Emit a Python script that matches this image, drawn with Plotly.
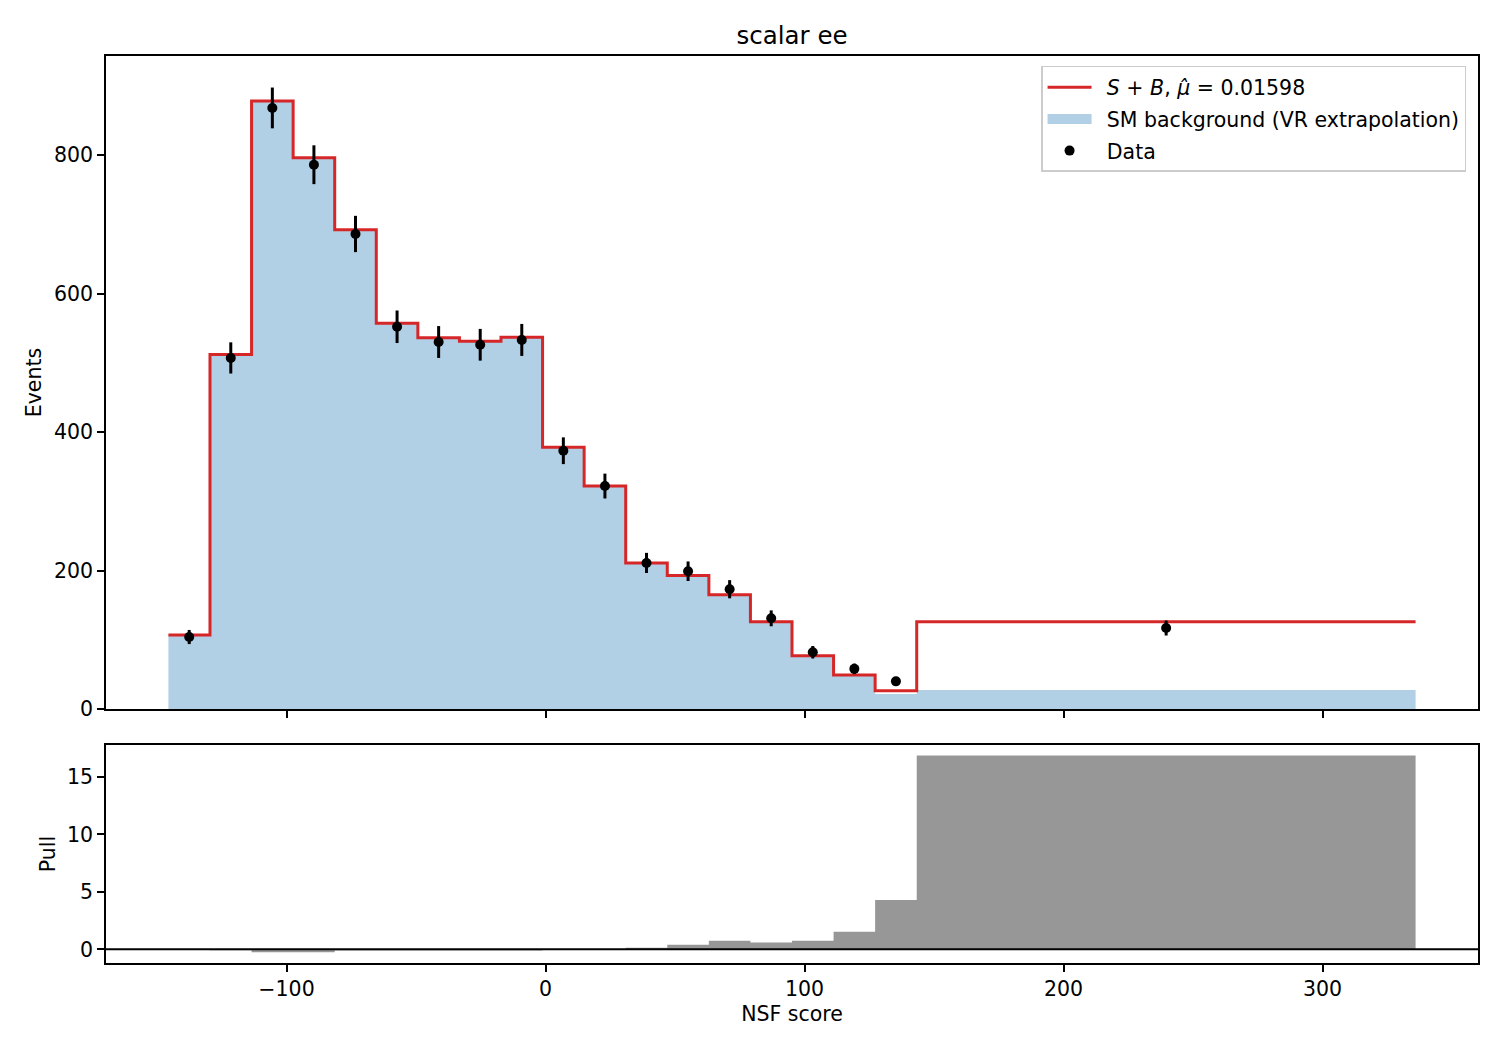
import numpy as np
import plotly.graph_objects as go

# Bin edges of NSF score
edges = [-145.6, -129.55, -113.5, -97.45, -81.4, -65.35, -49.3, -33.25, -17.2,
         -1.15, 14.9, 30.95, 47.0, 63.05, 79.1, 95.15, 111.2, 127.25, 143.3, 335.9]

# S+B prediction per bin
sb_values = [107, 512, 878, 796, 692, 557, 536, 531, 537, 378, 322, 211, 193,
             165, 126, 77, 49, 26.5, 126]

# SM background (VR extrapolation) per bin
bkg_values = [107, 512, 878, 796, 692, 557, 536, 531, 537, 378, 322, 211, 193,
              165, 126, 77, 49, 21.7, 27.4]

# Observed data per bin
data_values = [104, 507, 868, 786, 686, 552, 530, 526, 533, 373, 322, 211, 199,
               173, 131, 82, 58, 40, 117]

# Pull per bin
pull_values = [0.0, -0.08, -0.25, -0.25, -0.1, -0.1, -0.1, -0.1, -0.1, -0.05,
               0.0, 0.13, 0.39, 0.74, 0.59, 0.74, 1.52, 4.29, 16.87]

x_ticks = [-100, 0, 100, 200, 300]
y_ticks = [0, 200, 400, 600, 800]
pull_ticks = [0, 5, 10, 15]

e = np.array(edges)
centers = (e[:-1] + e[1:]) / 2
data_err = np.sqrt(np.array(data_values, dtype=float))

FONT = "DejaVu Sans"
FS = 20.5
BLUE = "#b1cfe5"
SP = "\u2002"

fig = go.Figure()

# background filled step
fig.add_trace(go.Scatter(
    x=edges, y=bkg_values + [bkg_values[-1]],
    mode="lines", line=dict(color=BLUE, width=0, shape="hv"),
    fill="tozeroy", fillcolor=BLUE,
    showlegend=False, hoverinfo="skip",
    xaxis="x", yaxis="y",
))
# legend proxy for background
fig.add_trace(go.Scatter(
    x=[None], y=[None], mode="lines",
    line=dict(color=BLUE, width=14),
    name=SP + "SM background (VR extrapolation)", legendrank=2, legendgroup="b",
    xaxis="x", yaxis="y",
))

fig.add_trace(go.Scatter(
    x=edges, y=sb_values + [sb_values[-1]],
    mode="lines", line=dict(color="#d62728", width=3, shape="hv"),
    name=SP + "<i>S</i> + <i>B</i>, <i>\u03bc\u0302</i> = 0.01598", legendrank=1,
    legendgroup="a",
    xaxis="x", yaxis="y",
))

fig.add_trace(go.Scatter(
    x=centers, y=data_values, mode="markers",
    marker=dict(color="black", size=10),
    error_y=dict(type="data", array=data_err, color="black", thickness=3, width=0),
    name=SP + "Data", legendrank=3, legendgroup="c",
    xaxis="x", yaxis="y",
))

fig.add_trace(go.Scatter(
    x=edges, y=pull_values + [pull_values[-1]],
    mode="lines", line=dict(color="#979797", width=0, shape="hv"),
    fill="tozeroy", fillcolor="#979797",
    showlegend=False, hoverinfo="skip",
    xaxis="x2", yaxis="y2",
))

axis_common = dict(
    showline=True, linecolor="black", linewidth=1.6, mirror=True,
    ticks="outside", ticklen=7, tickwidth=1.6, tickcolor="black",
    showgrid=False, zeroline=False,
    tickfont=dict(family=FONT, size=FS, color="black"),
)

xr = [-169.7, 360.0]

fig.update_layout(
    width=1500, height=1050,
    margin=dict(l=106, r=22, t=56, b=87),
    paper_bgcolor="white", plot_bgcolor="white",
    font=dict(family=FONT, size=FS, color="black"),
    title=dict(text="scalar ee", x=0.5, xref="paper", xanchor="center",
               y=1 - 35 / 1050, yref="container", yanchor="middle",
               font=dict(family=FONT, size=24.5, color="black")),
    xaxis=dict(domain=[0, 1], range=xr, tickvals=x_ticks, showticklabels=False,
               anchor="y", **axis_common),
    yaxis=dict(domain=[0.2800, 1.0], range=[0, 943], tickvals=y_ticks,
               anchor="x",
               title=dict(text="Events", standoff=7,
                          font=dict(family=FONT, size=FS, color="black")),
               **axis_common),
    xaxis2=dict(domain=[0, 1], range=xr, tickvals=x_ticks,
                ticktext=["\u2212100", "0", "100", "200", "300"],
                anchor="y2", matches="x",
                title=dict(text="NSF score", standoff=6,
                           font=dict(family=FONT, size=FS, color="black")),
                **axis_common),
    yaxis2=dict(domain=[0, 0.2404], range=[-1.19, 17.78], tickvals=pull_ticks,
                anchor="x2",
                title=dict(text="Pull", standoff=6,
                           font=dict(family=FONT, size=FS, color="black")),
                **axis_common),
    legend=dict(x=0.9913, y=0.989, xanchor="right", yanchor="top",
                xref="paper", yref="paper",
                bgcolor="rgba(255,255,255,0.8)", bordercolor="#cccccc",
                borderwidth=1.5, font=dict(family=FONT, size=FS, color="black"),
                traceorder="grouped", tracegroupgap=2, itemwidth=44),
    showlegend=True,
)

fig.add_shape(type="line", xref="x2 domain", yref="y2", x0=0, x1=1, y0=0, y1=0,
              line=dict(color="black", width=2))

fig.write_html("out.html")
